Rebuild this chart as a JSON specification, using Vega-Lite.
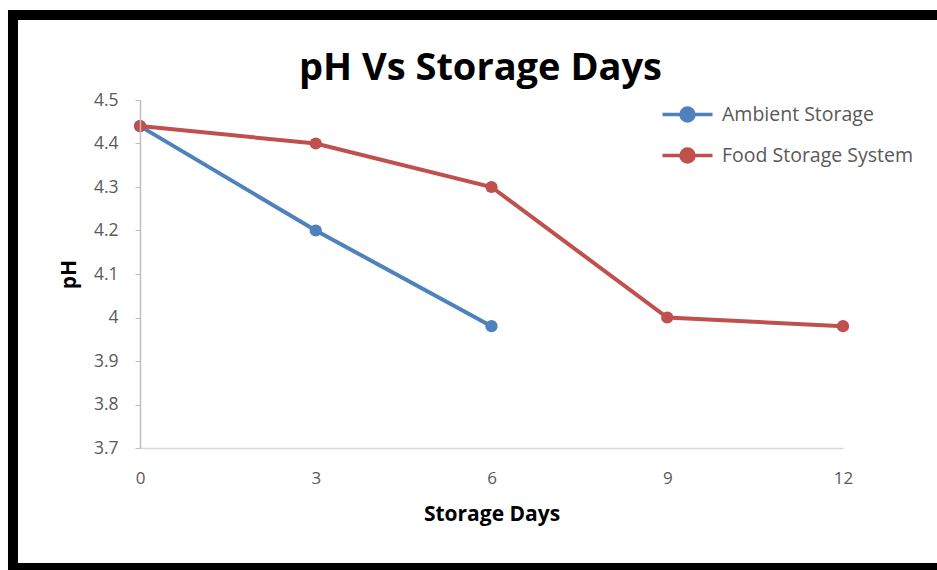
{
  "$schema": "https://vega.github.io/schema/vega-lite/v6.json",
  "width": 703,
  "height": 348,
  "autosize": {"type": "none"},
  "padding": {"left": 140, "top": 100, "right": 94, "bottom": 122},
  "background": "white",
  "title": {"text": "pH Vs Storage Days", "font": "Open Sans", "fontSize": 38, "fontWeight": "bold", "color": "#000000", "anchor": "middle", "frame": "group", "dx": -11, "offset": 0, "dy": 78},
  "config": {"view": {"stroke": null}, "font": "Open Sans"},
  "layer": [
    {
      "data": {"values": [{"frame": 1}]},
      "mark": {"type": "rect", "clip": false, "fill": "white", "stroke": "black", "strokeWidth": 10},
      "encoding": {
        "x": {"datum": -2.168, "type": "quantitative"},
        "x2": {"datum": 14},
        "y": {"datum": 4.6954, "type": "quantitative"},
        "y2": {"datum": 3.424}
      }
    },
    {
      "data": {"values": [
        {"day": 0, "ph": 4.44, "series": "Ambient Storage"},
        {"day": 3, "ph": 4.2, "series": "Ambient Storage"},
        {"day": 6, "ph": 3.98, "series": "Ambient Storage"},
        {"day": 0, "ph": 4.44, "series": "Food Storage System"},
        {"day": 3, "ph": 4.4, "series": "Food Storage System"},
        {"day": 6, "ph": 4.3, "series": "Food Storage System"},
        {"day": 9, "ph": 4.0, "series": "Food Storage System"},
        {"day": 12, "ph": 3.98, "series": "Food Storage System"}
      ]},
      "encoding": {
        "x": {"field": "day", "type": "quantitative", "scale": {"domain": [0, 12], "nice": false, "zero": false},
          "axis": {"values": [0, 3, 6, 9, 12], "format": "d", "labelFlush": false, "zindex": 1, "grid": false, "ticks": false, "domainColor": "#D9D9D9", "domainWidth": 1.5,
            "labelFontSize": 17, "labelColor": "#595959", "labelPadding": 22, "labelFont": "Open Sans",
            "title": "Storage Days", "titleFontSize": 21, "titleFontWeight": "bold", "titleColor": "#000000", "titlePadding": 17, "titleFont": "Open Sans"}},
        "y": {"field": "ph", "type": "quantitative", "scale": {"domain": [3.7, 4.5], "nice": false, "zero": false},
          "axis": {"values": [3.7, 3.8, 3.9, 4, 4.1, 4.2, 4.3, 4.4, 4.5], "zindex": 1, "format": "~g", "labelFlush": false, "grid": false, "tickSize": 5, "tickColor": "#BFBFBF", "domainColor": "#BFBFBF", "domainWidth": 1.5,
            "labelFontSize": 17.5, "labelColor": "#595959", "labelPadding": 17, "labelFont": "Open Sans",
            "title": "pH", "titleFontSize": 21, "titleFontWeight": "bold", "titleColor": "#000000", "titlePadding": 14, "titleFont": "Open Sans"}},
        "color": {"field": "series", "type": "nominal",
          "scale": {"domain": ["Ambient Storage", "Food Storage System"], "range": ["#4F81BD", "#C0504D"]},
          "legend": {"orient": "none", "legendX": 533, "legendY": 0, "title": null, "zindex": 1,
            "symbolType": "M-2,0L2,0M-0.52,0A0.52,0.52 0 1 1 0.52,0A0.52,0.52 0 1 1 -0.52,0Z",
            "symbolSize": 625, "symbolStrokeWidth": 3.5, "labelFontSize": 19.5, "labelLimit": 400, "labelColor": "#595959", "labelFont": "Open Sans",
            "labelOffset": 20, "rowPadding": 13,
            "encode": {"symbols": {"update": {"fill": {"scale": "color", "field": "value"}, "stroke": {"scale": "color", "field": "value"}, "opacity": {"value": 1}}}}}
        }
      },
      "layer": [
        {"mark": {"type": "line", "strokeWidth": 4}},
        {"mark": {"type": "point", "filled": true, "size": 150, "opacity": 1}}
      ]
    }
  ]
}
